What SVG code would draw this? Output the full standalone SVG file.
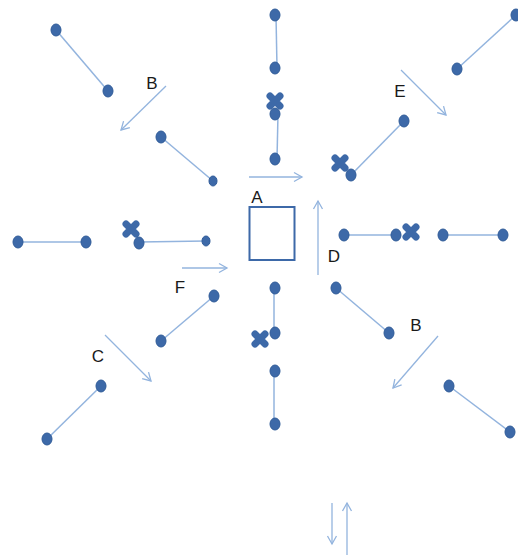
<svg xmlns="http://www.w3.org/2000/svg" width="518" height="558" viewBox="0 0 518 558">
<style>
.ln{stroke:#93B4DE;stroke-width:1.5;fill:none}
.ar{stroke:#93B4DE;stroke-width:1.3;fill:none;marker-end:url(#ah)}
.dt{fill:#3D69A8;stroke:#2E5A98;stroke-width:1}
.x{stroke:#3D69A8;stroke-width:7;stroke-linecap:round;fill:none}
.lb{font-family:"Liberation Sans",Arial,sans-serif;font-size:17px;fill:#1a1a1a;text-anchor:middle}
</style>
<defs>
<marker id="ah" markerWidth="12" markerHeight="12" refX="9" refY="6" orient="auto" markerUnits="userSpaceOnUse">
<path d="M1,1.5 L9,6 L1,10.5" fill="none" stroke="#93B4DE" stroke-width="1.3"/>
</marker>
<g id="xm"><path class="x" d="M-5,-5 L5,5 M5,-5 L-5,5"/></g>
</defs>
<rect width="518" height="558" fill="#fff"/>
<g id="connectors">
<line class="ln" x1="56" y1="30" x2="108" y2="91"/>
<line class="ln" x1="161" y1="137" x2="213" y2="181"/>
<line class="ln" x1="276" y1="15" x2="277" y2="68"/>
<line class="ln" x1="278" y1="114" x2="277" y2="159"/>
<line class="ln" x1="404" y1="121" x2="351" y2="175"/>
<line class="ln" x1="516" y1="15" x2="457" y2="69"/>
<line class="ln" x1="18" y1="242" x2="86" y2="242"/>
<line class="ln" x1="139" y1="242" x2="206" y2="241"/>
<line class="ln" x1="214" y1="296" x2="161" y2="341"/>
<line class="ln" x1="101" y1="386" x2="47" y2="439"/>
<line class="ln" x1="344" y1="235" x2="396" y2="235"/>
<line class="ln" x1="443" y1="235" x2="503" y2="235"/>
<line class="ln" x1="336" y1="288" x2="389" y2="333"/>
<line class="ln" x1="274" y1="288" x2="274" y2="333"/>
<line class="ln" x1="274" y1="371" x2="274" y2="424"/>
<line class="ln" x1="449" y1="386" x2="510" y2="432"/>
<line class="ar" x1="166" y1="86" x2="121" y2="130"/>
<line class="ar" x1="401" y1="70" x2="446" y2="115"/>
<line class="ar" x1="249" y1="177" x2="302" y2="177"/>
<line class="ar" x1="318" y1="275" x2="318" y2="201"/>
<line class="ar" x1="182" y1="268" x2="227" y2="268"/>
<line class="ar" x1="105" y1="335" x2="151" y2="381"/>
<line class="ar" x1="438" y1="336" x2="393" y2="388"/>
<line class="ar" x1="332" y1="503" x2="332" y2="544"/>
<line class="ar" x1="347" y1="555" x2="347" y2="503"/>
</g>
<g id="marks">
<use href="#xm" x="275" y="101"/>
<use href="#xm" x="340" y="163"/>
<use href="#xm" x="131" y="229"/>
<use href="#xm" x="411" y="232"/>
<use href="#xm" x="260" y="339"/>
</g>
<g id="dots">
<g id="n1"><ellipse class="dt" cx="56" cy="30" rx="5" ry="6"/></g>
<g id="n2"><ellipse class="dt" cx="108" cy="91" rx="5" ry="6"/></g>
<g id="n3"><ellipse class="dt" cx="161" cy="137" rx="5" ry="6"/></g>
<g id="n4"><ellipse class="dt" cx="213" cy="181" rx="4" ry="5"/></g>
<g id="n5"><ellipse class="dt" cx="275" cy="15" rx="5" ry="6"/></g>
<g id="n6"><ellipse class="dt" cx="275" cy="68" rx="5" ry="6"/></g>
<g id="n7"><ellipse class="dt" cx="275" cy="114" rx="5" ry="6"/></g>
<g id="n8"><ellipse class="dt" cx="275" cy="159" rx="5" ry="6"/></g>
<g id="n9"><ellipse class="dt" cx="404" cy="121" rx="5" ry="6"/></g>
<g id="n10"><ellipse class="dt" cx="351" cy="175" rx="5" ry="6"/></g>
<g id="n11"><ellipse class="dt" cx="516" cy="15" rx="5" ry="6"/></g>
<g id="n12"><ellipse class="dt" cx="457" cy="69" rx="5" ry="6"/></g>
<g id="n13"><ellipse class="dt" cx="18" cy="242" rx="5" ry="6"/></g>
<g id="n14"><ellipse class="dt" cx="86" cy="242" rx="5" ry="6"/></g>
<g id="n15"><ellipse class="dt" cx="139" cy="243" rx="5" ry="6"/></g>
<g id="n16"><ellipse class="dt" cx="206" cy="241" rx="4" ry="5"/></g>
<g id="n17"><ellipse class="dt" cx="214" cy="296" rx="5" ry="6"/></g>
<g id="n18"><ellipse class="dt" cx="161" cy="341" rx="5" ry="6"/></g>
<g id="n19"><ellipse class="dt" cx="101" cy="386" rx="5" ry="6"/></g>
<g id="n20"><ellipse class="dt" cx="47" cy="439" rx="5" ry="6"/></g>
<g id="n21"><ellipse class="dt" cx="344" cy="235" rx="5" ry="6"/></g>
<g id="n22"><ellipse class="dt" cx="396" cy="235" rx="5" ry="6"/></g>
<g id="n23"><ellipse class="dt" cx="443" cy="235" rx="5" ry="6"/></g>
<g id="n24"><ellipse class="dt" cx="503" cy="235" rx="5" ry="6"/></g>
<g id="n25"><ellipse class="dt" cx="336" cy="288" rx="5" ry="6"/></g>
<g id="n26"><ellipse class="dt" cx="389" cy="333" rx="5" ry="6"/></g>
<g id="n27"><ellipse class="dt" cx="275" cy="288" rx="5" ry="6"/></g>
<g id="n28"><ellipse class="dt" cx="275" cy="333" rx="5" ry="6"/></g>
<g id="n29"><ellipse class="dt" cx="275" cy="371" rx="5" ry="6"/></g>
<g id="n30"><ellipse class="dt" cx="275" cy="424" rx="5" ry="6"/></g>
<g id="n31"><ellipse class="dt" cx="449" cy="386" rx="5" ry="6"/></g>
<g id="n32"><ellipse class="dt" cx="510" cy="432" rx="5" ry="6"/></g>
</g>
<g id="nodeA"><rect x="249.5" y="207" width="45" height="53" fill="#fff" stroke="#3D69A8" stroke-width="2"/></g>
<g id="labels">
<text class="lb" x="152" y="89">B</text>
<text class="lb" x="400" y="97">E</text>
<text class="lb" x="257" y="203">A</text>
<text class="lb" x="334" y="262">D</text>
<text class="lb" x="180" y="293">F</text>
<text class="lb" x="98" y="362">C</text>
<text class="lb" x="416" y="331">B</text>
</g>
</svg>
